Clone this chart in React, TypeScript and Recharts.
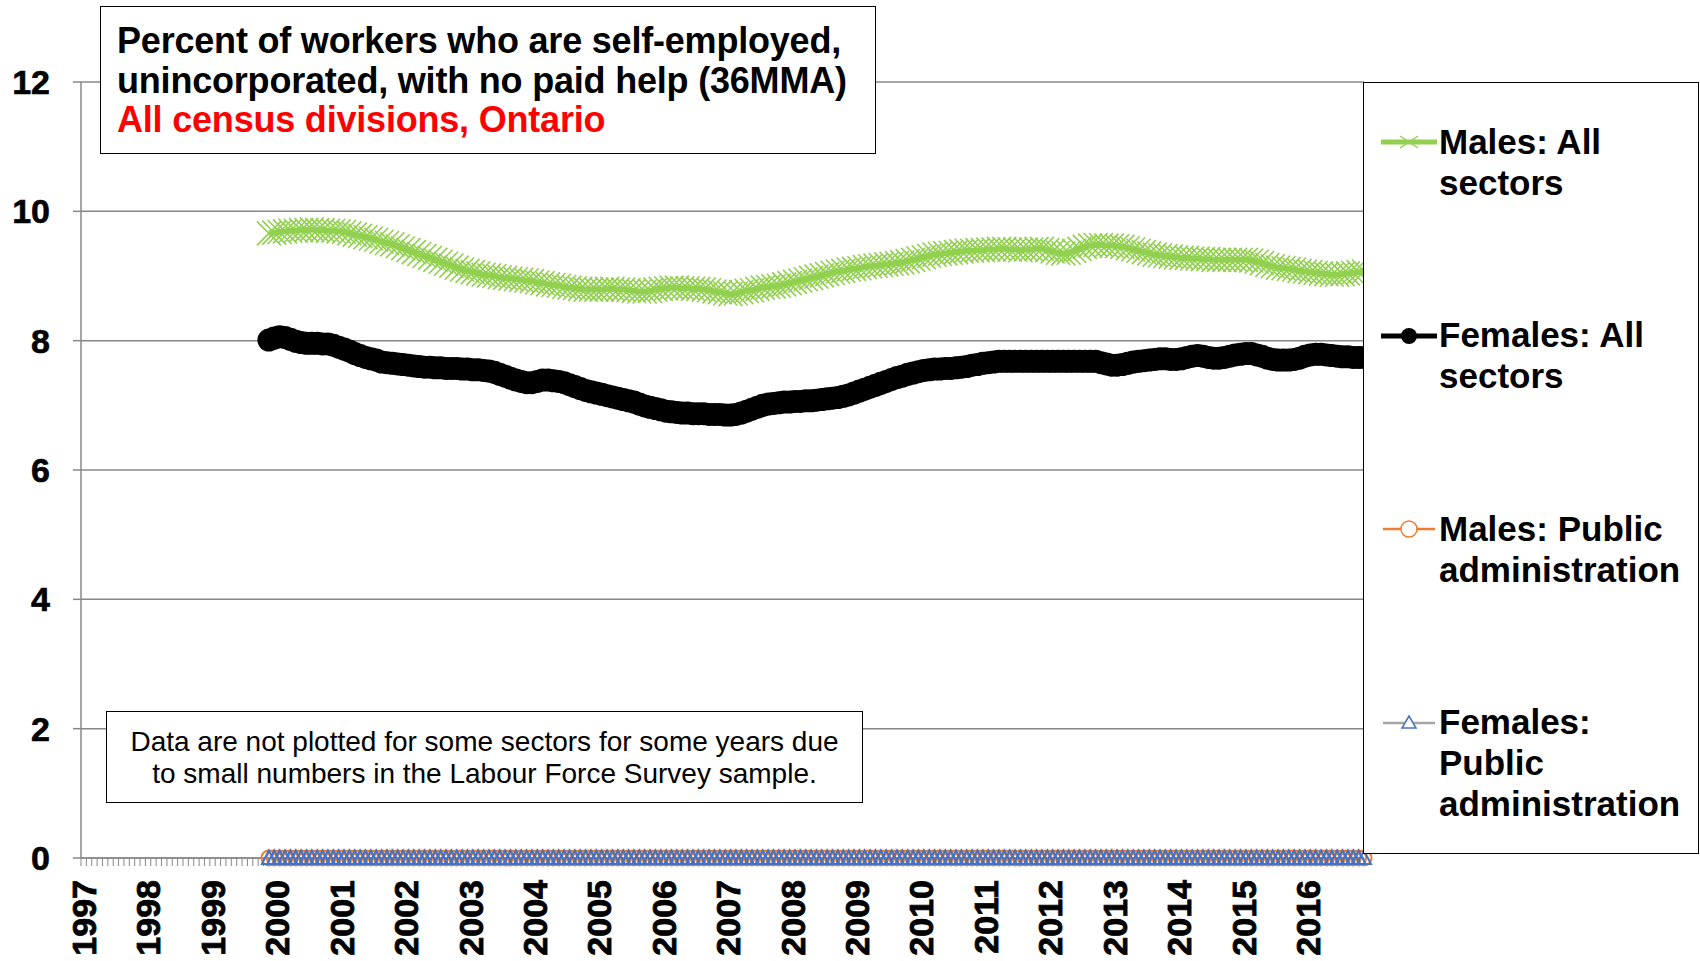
import React from 'react';
import { LineChart, Line, XAxis, YAxis, CartesianGrid } from 'recharts';

const FONT = '"Liberation Sans", Arial, Helvetica, sans-serif';

const years = [
  '1997', '1998', '1999', '2000', '2001', '2002', '2003', '2004', '2005', '2006',
  '2007', '2008', '2009', '2010', '2011', '2012', '2013', '2014', '2015', '2016',
];
const monthNums = ['01', '02', '03', '04', '05', '06', '07', '08', '09', '10', '11', '12'];
const months = years.flatMap((y) => monthNums.map((m) => `${y}-${m}`));

const yTicks = [0, 2, 4, 6, 8, 10, 12];

// 36-month moving averages, first value is Dec 1999, then Jan..Dec for 2000-2016
const malesAll = [
  9.66,
  9.67, 9.68, 9.69, 9.70, 9.70, 9.71, 9.71, 9.72, 9.71, 9.71, 9.70, 9.70,
  9.69, 9.68, 9.66, 9.64, 9.62, 9.60, 9.58, 9.56, 9.53, 9.51, 9.49, 9.46,
  9.43, 9.40, 9.37, 9.34, 9.31, 9.28, 9.25, 9.22, 9.19, 9.16, 9.13, 9.10,
  9.08, 9.06, 9.04, 9.02, 9.01, 9.00, 8.98, 8.97, 8.96, 8.95, 8.94, 8.93,
  8.92, 8.90, 8.89, 8.87, 8.86, 8.85, 8.83, 8.82, 8.81, 8.80, 8.79, 8.79,
  8.79, 8.79, 8.80, 8.80, 8.79, 8.79, 8.78, 8.77, 8.76, 8.76, 8.77, 8.79,
  8.80, 8.81, 8.82, 8.82, 8.81, 8.81, 8.80, 8.80, 8.79, 8.78, 8.76, 8.75,
  8.73, 8.72, 8.73, 8.75, 8.77, 8.78, 8.80, 8.82, 8.83, 8.84, 8.85, 8.87,
  8.89, 8.91, 8.93, 8.95, 8.97, 8.99, 9.01, 9.03, 9.05, 9.07, 9.08, 9.10,
  9.11, 9.12, 9.14, 9.15, 9.16, 9.17, 9.18, 9.19, 9.20, 9.21, 9.23, 9.25,
  9.27, 9.29, 9.31, 9.33, 9.34, 9.35, 9.36, 9.37, 9.38, 9.39, 9.39, 9.40,
  9.40, 9.41, 9.41, 9.42, 9.42, 9.41, 9.41, 9.40, 9.41, 9.41, 9.42, 9.42,
  9.40, 9.38, 9.36, 9.35, 9.36, 9.39, 9.42, 9.45, 9.47, 9.48, 9.48, 9.47,
  9.47, 9.46, 9.45, 9.43, 9.41, 9.39, 9.37, 9.35, 9.33, 9.32, 9.31, 9.30,
  9.29, 9.28, 9.28, 9.27, 9.27, 9.26, 9.26, 9.25, 9.25, 9.25, 9.25, 9.25,
  9.25, 9.25, 9.24, 9.22, 9.20, 9.17, 9.15, 9.13, 9.12, 9.11, 9.10, 9.08,
  9.07, 9.06, 9.05, 9.04, 9.03, 9.02, 9.02, 9.03, 9.04, 9.05, 9.06, 9.07,
];

const femalesAll = [
  8.01,
  8.04, 8.06, 8.05, 8.02, 7.99, 7.97, 7.96, 7.96, 7.96, 7.95, 7.95, 7.93,
  7.90, 7.87, 7.84, 7.80, 7.77, 7.74, 7.72, 7.70, 7.67, 7.66, 7.65, 7.64,
  7.63, 7.62, 7.61, 7.60, 7.59, 7.59, 7.58, 7.58, 7.57, 7.57, 7.57, 7.56,
  7.56, 7.55, 7.55, 7.54, 7.53, 7.51, 7.48, 7.45, 7.42, 7.39, 7.37, 7.35,
  7.35, 7.37, 7.39, 7.39, 7.38, 7.37, 7.35, 7.32, 7.29, 7.26, 7.23, 7.21,
  7.19, 7.17, 7.15, 7.13, 7.11, 7.09, 7.07, 7.05, 7.02, 6.99, 6.97, 6.95,
  6.93, 6.91, 6.90, 6.89, 6.88, 6.88, 6.87, 6.87, 6.87, 6.86, 6.86, 6.86,
  6.85, 6.85, 6.86, 6.88, 6.91, 6.94, 6.97, 7.00, 7.02, 7.03, 7.04, 7.05,
  7.05, 7.06, 7.06, 7.07, 7.07, 7.08, 7.09, 7.10, 7.11, 7.12, 7.14, 7.16,
  7.19, 7.22, 7.25, 7.28, 7.31, 7.34, 7.37, 7.40, 7.43, 7.45, 7.48, 7.50,
  7.52, 7.54, 7.55, 7.56, 7.56, 7.57, 7.57, 7.58, 7.59, 7.60, 7.62, 7.63,
  7.65, 7.66, 7.67, 7.68, 7.68, 7.68, 7.68, 7.68, 7.68, 7.68, 7.68, 7.68,
  7.68, 7.68, 7.68, 7.68, 7.68, 7.68, 7.68, 7.68, 7.68, 7.68, 7.66, 7.64,
  7.62, 7.62, 7.63, 7.65, 7.67, 7.68, 7.69, 7.70, 7.71, 7.72, 7.72, 7.71,
  7.71, 7.72, 7.74, 7.76, 7.77, 7.76, 7.74, 7.73, 7.73, 7.74, 7.76, 7.78,
  7.79, 7.80, 7.80, 7.78, 7.76, 7.73, 7.71, 7.70, 7.70, 7.70, 7.71, 7.73,
  7.76, 7.78, 7.79, 7.79, 7.78, 7.77, 7.76, 7.75, 7.75, 7.74, 7.74, 7.74,
];

const malesPublic = [
  0,
  0, 0, 0, 0, 0, 0, 0, 0, 0, 0, 0, 0,
  0, 0, 0, 0, 0, 0, 0, 0, 0, 0, 0, 0,
  0, 0, 0, 0, 0, 0, 0, 0, 0, 0, 0, 0,
  0, 0, 0, 0, 0, 0, 0, 0, 0, 0, 0, 0,
  0, 0, 0, 0, 0, 0, 0, 0, 0, 0, 0, 0,
  0, 0, 0, 0, 0, 0, 0, 0, 0, 0, 0, 0,
  0, 0, 0, 0, 0, 0, 0, 0, 0, 0, 0, 0,
  0, 0, 0, 0, 0, 0, 0, 0, 0, 0, 0, 0,
  0, 0, 0, 0, 0, 0, 0, 0, 0, 0, 0, 0,
  0, 0, 0, 0, 0, 0, 0, 0, 0, 0, 0, 0,
  0, 0, 0, 0, 0, 0, 0, 0, 0, 0, 0, 0,
  0, 0, 0, 0, 0, 0, 0, 0, 0, 0, 0, 0,
  0, 0, 0, 0, 0, 0, 0, 0, 0, 0, 0, 0,
  0, 0, 0, 0, 0, 0, 0, 0, 0, 0, 0, 0,
  0, 0, 0, 0, 0, 0, 0, 0, 0, 0, 0, 0,
  0, 0, 0, 0, 0, 0, 0, 0, 0, 0, 0, 0,
  0, 0, 0, 0, 0, 0, 0, 0, 0, 0, 0, 0,
];

const femalesPublic = [
  0,
  0, 0, 0, 0, 0, 0, 0, 0, 0, 0, 0, 0,
  0, 0, 0, 0, 0, 0, 0, 0, 0, 0, 0, 0,
  0, 0, 0, 0, 0, 0, 0, 0, 0, 0, 0, 0,
  0, 0, 0, 0, 0, 0, 0, 0, 0, 0, 0, 0,
  0, 0, 0, 0, 0, 0, 0, 0, 0, 0, 0, 0,
  0, 0, 0, 0, 0, 0, 0, 0, 0, 0, 0, 0,
  0, 0, 0, 0, 0, 0, 0, 0, 0, 0, 0, 0,
  0, 0, 0, 0, 0, 0, 0, 0, 0, 0, 0, 0,
  0, 0, 0, 0, 0, 0, 0, 0, 0, 0, 0, 0,
  0, 0, 0, 0, 0, 0, 0, 0, 0, 0, 0, 0,
  0, 0, 0, 0, 0, 0, 0, 0, 0, 0, 0, 0,
  0, 0, 0, 0, 0, 0, 0, 0, 0, 0, 0, 0,
  0, 0, 0, 0, 0, 0, 0, 0, 0, 0, 0, 0,
  0, 0, 0, 0, 0, 0, 0, 0, 0, 0, 0, 0,
  0, 0, 0, 0, 0, 0, 0, 0, 0, 0, 0, 0,
  0, 0, 0, 0, 0, 0, 0, 0, 0, 0, 0, 0,
  0, 0, 0, 0, 0, 0, 0, 0, 0, 0, 0, 0,
];

// series start at Dec 1999 (36th month of the axis)
const START = 35;

const rows = months.map((month, i) => {
  const k = i - START;
  const pick = (arr: number[]) => (k >= 0 && k < arr.length ? arr[k] : null);
  return {
    month,
    malesAll: pick(malesAll),
    femalesAll: pick(femalesAll),
    malesPublic: pick(malesPublic),
    femalesPublic: pick(femalesPublic),
  };
});

const GREEN = '#92D050';
const ORANGE = '#ED7D31';
const GREY = '#A5A5A5';
const BLUE = '#4472C4';
const AXIS = '#888888';

const XDot = (props: any) => {
  const { cx, cy, index, value } = props;
  if (cx == null || cy == null || value == null) return <g key={index} />;
  const s = 12;
  return (
    <path
      key={index}
      d={`M${cx - s},${cy - s}L${cx + s},${cy + s}M${cx - s},${cy + s}L${cx + s},${cy - s}`}
      stroke={GREEN}
      strokeWidth={1.6}
      fill="none"
    />
  );
};

const CircleDot = (props: any) => {
  const { cx, cy, index, value } = props;
  if (cx == null || cy == null || value == null) return <g key={index} />;
  return <circle key={index} cx={cx} cy={cy} r={11.5} fill="#000" />;
};

const OpenCircleDot = (props: any) => {
  const { cx, cy, index, value } = props;
  if (cx == null || cy == null || value == null) return <g key={index} />;
  return <circle key={index} cx={cx} cy={cy} r={7.5} fill="none" stroke={ORANGE} strokeWidth={2} />;
};

const TriangleDot = (props: any) => {
  const { cx, cy, index, value } = props;
  if (cx == null || cy == null || value == null) return <g key={index} />;
  return (
    <path
      key={index}
      d={`M${cx},${cy - 7.5}L${cx + 7},${cy + 6}L${cx - 7},${cy + 6}Z`}
      fill="none"
      stroke={BLUE}
      strokeWidth={2}
    />
  );
};

const YearTick = (props: any) => {
  const { x, y, payload } = props;
  const v = String(payload?.value ?? '');
  if (!v.endsWith('-01')) return <g />;
  return (
    <text
      x={0}
      y={0}
      transform={`translate(${x + 15},${y + 12}) rotate(-90)`}
      textAnchor="end"
      fontSize={34}
      fontWeight="bold"
      fontFamily={FONT}
      fill="#000"
      stroke="#000"
      strokeWidth={0.8}
    >
      {v.slice(0, 4)}
    </text>
  );
};

const legendItems = [
  { lines: ['Males: All', 'sectors'], kind: 'x' },
  { lines: ['Females: All', 'sectors'], kind: 'dot' },
  { lines: ['Males: Public', 'administration'], kind: 'circle' },
  { lines: ['Females:', 'Public', 'administration'], kind: 'triangle' },
];

const LegendIcon = ({ kind }: { kind: string }) => {
  const w = 56;
  const h = 24;
  const c = h / 2;
  const m = w / 2;
  if (kind === 'x') {
    return (
      <svg width={w} height={h}>
        <line x1={0} y1={c} x2={w} y2={c} stroke={GREEN} strokeWidth={5} />
        <path d={`M${m - 9},${c - 6}L${m + 9},${c + 6}M${m - 9},${c + 6}L${m + 9},${c - 6}`} stroke={GREEN} strokeWidth={1.5} />
      </svg>
    );
  }
  if (kind === 'dot') {
    return (
      <svg width={w} height={h}>
        <line x1={0} y1={c} x2={w} y2={c} stroke="#000" strokeWidth={5} strokeLinecap="round" />
        <circle cx={m} cy={c} r={8} fill="#000" />
      </svg>
    );
  }
  if (kind === 'circle') {
    return (
      <svg width={w} height={h}>
        <line x1={2} y1={c} x2={w - 2} y2={c} stroke={ORANGE} strokeWidth={2.5} />
        <circle cx={m} cy={c} r={8} fill="#fff" stroke={ORANGE} strokeWidth={1.5} />
      </svg>
    );
  }
  return (
    <svg width={w} height={h}>
      <line x1={2} y1={c} x2={w - 2} y2={c} stroke={GREY} strokeWidth={2.5} />
      <path d={`M${m},${c - 7}L${m + 7},${c + 5}L${m - 7},${c + 5}Z`} fill="#fff" stroke={BLUE} strokeWidth={1.5} />
    </svg>
  );
};

const boxStyle: React.CSSProperties = {
  position: 'absolute',
  background: '#fff',
  border: '1.5px solid #000',
  boxSizing: 'border-box',
  fontFamily: FONT,
};

export default function App() {
  return (
    <div style={{ position: 'absolute', left: 0, top: 0, width: 1700, height: 961, background: '#fff', overflow: 'hidden' }}>
      <LineChart width={1700} height={961} data={rows} margin={{ top: 82, right: 336, bottom: 0, left: 0 }}>
        <CartesianGrid vertical={false} stroke={AXIS} strokeWidth={1.5} />
        <XAxis
          dataKey="month"
          interval={0}
          height={103}
          tickSize={8}
          tickLine={{ stroke: AXIS, strokeWidth: 1 }}
          axisLine={{ stroke: AXIS, strokeWidth: 1.5 }}
          tick={<YearTick />}
        />
        <YAxis
          width={81}
          domain={[0, 12]}
          ticks={yTicks}
          interval={0}
          tickSize={8}
          tickMargin={23}
          tickLine={{ stroke: AXIS, strokeWidth: 1.5 }}
          axisLine={{ stroke: AXIS, strokeWidth: 1.5 }}
          tick={{ fill: '#000', fontSize: 34, fontWeight: 'bold', fontFamily: FONT, stroke: '#000', strokeWidth: 0.6 }}
        />
        <Line dataKey="malesAll" stroke={GREEN} strokeWidth={6} dot={XDot} activeDot={false} isAnimationActive={false} />
        <Line dataKey="femalesAll" stroke="#000" strokeWidth={5} dot={CircleDot} activeDot={false} isAnimationActive={false} />
        <Line dataKey="malesPublic" stroke={ORANGE} strokeWidth={2} dot={OpenCircleDot} activeDot={false} isAnimationActive={false} />
        <Line dataKey="femalesPublic" stroke={GREY} strokeWidth={2} dot={TriangleDot} activeDot={false} isAnimationActive={false} />
      </LineChart>

      <div style={{ ...boxStyle, left: 100, top: 6, width: 776, height: 148, padding: '14px 0 0 16px' }}>
        <div style={{ fontSize: 36, fontWeight: 'bold', lineHeight: '39.5px', color: '#000', letterSpacing: '-0.2px' }}>
          Percent of workers who are self-employed,
          <br />
          unincorporated, with no paid help (36MMA)
        </div>
        <div style={{ fontSize: 36, fontWeight: 'bold', lineHeight: '39.5px', color: '#FF0000', letterSpacing: '-0.2px' }}>
          All census divisions, Ontario
        </div>
      </div>

      <div style={{ ...boxStyle, left: 106, top: 711, width: 757, height: 92, paddingTop: 14, textAlign: 'center', fontSize: 28, lineHeight: '32px', color: '#000' }}>
        Data are not plotted for some sectors for some years due
        <br />
        to small numbers in the Labour Force Survey sample.
      </div>

      <div style={{ ...boxStyle, left: 1363, top: 82, width: 336, height: 772 }}>
        {legendItems.map((item, i) => {
          const top = 59 + i * 193.5 - 20.5;
          return (
            <div key={item.kind} style={{ position: 'absolute', left: 0, top, width: 330 }}>
              <div style={{ position: 'absolute', left: 17, top: 8.5 }}>
                <LegendIcon kind={item.kind} />
              </div>
              <div style={{ position: 'absolute', left: 75, top: -1, fontSize: 35, fontWeight: 'bold', lineHeight: '41px', color: '#000', whiteSpace: 'nowrap' }}>
                {item.lines.map((l) => (
                  <div key={l}>{l}</div>
                ))}
              </div>
            </div>
          );
        })}
      </div>
    </div>
  );
}
